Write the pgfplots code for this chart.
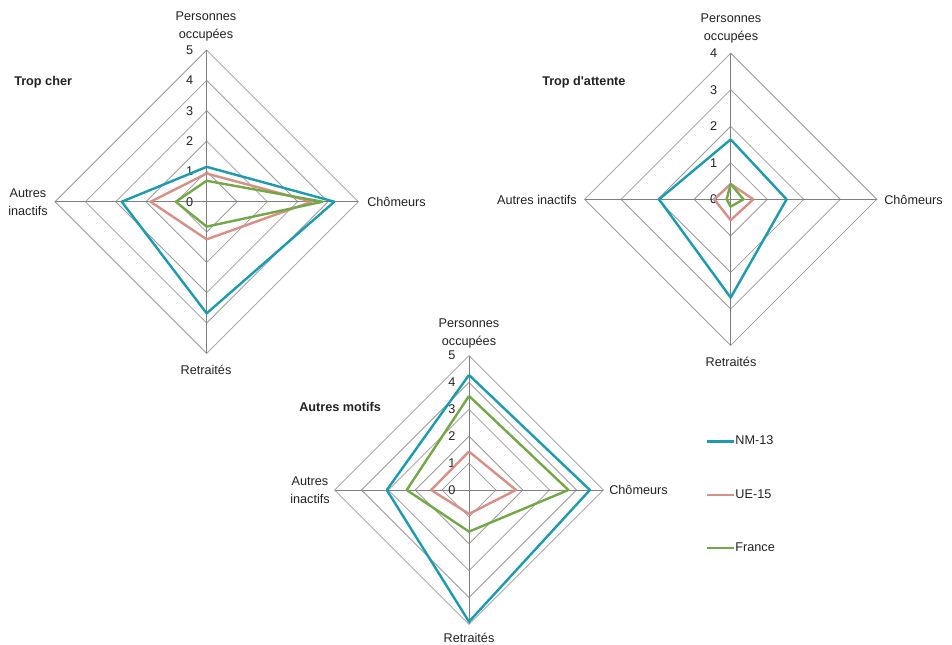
\documentclass[border=0pt]{standalone}
\usepackage{fontspec}
\setmainfont{Liberation Sans}[Ligatures=TeXOff]
\usepackage{pgfplots}
\pgfplotsset{compat=1.18}
\definecolor{cNM}{HTML}{1A9BB0}
\definecolor{cUE}{HTML}{D88F86}
\definecolor{cFR}{HTML}{73A847}
\definecolor{gridc}{HTML}{9C9C9C}
\definecolor{txt}{HTML}{222222}
\newcommand\lblfont{\fontsize{9.5pt}{13.5pt}\selectfont}
\pgfplotsset{
  radar/.style={anchor=origin, hide axis, clip=false,
    xmin=-#1, xmax=#1, ymin=-#1, ymax=#1, enlargelimits=false},
  ser/.style={line width=1.8pt, line join=round},
}
\newcommand\radargrid[1]{%
  \pgfplotsinvokeforeach{1,...,#1}{\draw[gridc, line width=0.6pt] (axis cs:0,##1) -- (axis cs:##1,0) -- (axis cs:0,-##1) -- (axis cs:-##1,0) -- cycle;}
  \draw[gray, line width=0.6pt] (axis cs:0,#1) -- (axis cs:0,-#1);
  \draw[gray, line width=0.6pt] (axis cs:-#1,0) -- (axis cs:#1,0);
  \pgfplotsinvokeforeach{0,...,#1}{\node[anchor=east, text=txt, font=\lblfont, xshift=-10pt, inner sep=0pt] at (axis cs:0,##1) {##1};}
}
\begin{document}
\begin{tikzpicture}
\begin{scope}[x=0.75pt, y=-0.75pt]
\path (0,0) rectangle (952,645);
\end{scope}

% Chart 1: Trop cher
\begin{axis}[radar=5, x=22.75pt, y=22.75pt, at={(155.0pt,-151.3pt)}]
\radargrid{5}
\addplot[ser, cNM] coordinates {(0,1.15) (4.21,0) (0,-3.68) (-2.80,0) (0,1.15)};
\addplot[ser, cUE] coordinates {(0,0.93) (3.46,0) (0,-1.24) (-1.85,0) (0,0.93)};
\addplot[ser, cFR] coordinates {(0,0.69) (3.82,0) (0,-0.82) (-1.02,0) (0,0.69)};
\end{axis}

% Chart 2: Trop d'attente
\begin{axis}[radar=4, x=27.4pt, y=27.4pt, at={(548.0pt,-149.5pt)}]
\radargrid{4}
\addplot[ser, cNM] coordinates {(0,1.64) (1.53,0) (0,-2.69) (-1.96,0) (0,1.64)};
\addplot[ser, cUE] coordinates {(0,0.42) (0.62,0) (0,-0.57) (-0.45,0) (0,0.42)};
\addplot[ser, cFR] coordinates {(0,0.42) (0.35,0) (0,-0.20) (-0.11,0) (0,0.42)};
\end{axis}

% Chart 3: Autres motifs
\begin{axis}[radar=5, x=20.15pt, y=20.15pt, at={(351.75pt,-367.5pt)},
  legend style={at={(1.38,0.712)}, anchor=north west, draw=none, fill=none,
    inner sep=0pt, font=\lblfont, text=txt, row sep=28pt,
    nodes={inner xsep=0.5pt}},
  legend cell align=left,
  legend image code/.code={\draw[#1, line width=1.8pt] (0pt,0pt) -- (20pt,0pt);}]
\radargrid{5}
\addplot[ser, cNM] coordinates {(0,4.28) (4.50,0) (0,-4.90) (-3.06,0) (0,4.28)};
\addlegendentry{NM-13}
\addplot[ser, cUE] coordinates {(0,1.43) (1.75,0) (0,-0.89) (-1.41,0) (0,1.43)};
\addlegendentry{UE-15}
\addplot[ser, cFR] coordinates {(0,3.50) (3.70,0) (0,-1.55) (-2.32,0) (0,3.50)};
\addlegendentry{France}
\end{axis}

\begin{scope}[x=0.75pt, y=-0.75pt, every node/.style={text=txt, font=\lblfont, inner sep=0pt}]
% titles
\node[anchor=west, font=\lblfont\bfseries] at (14,82) {Trop cher};
\node[anchor=west, font=\lblfont\bfseries] at (542,82) {Trop d'attente};
\node[anchor=west, font=\lblfont\bfseries] at (299,407) {Autres motifs};
% chart 1 labels
\node[align=center] at (206,26.5) {Personnes\\occupées};
\node[anchor=west] at (367,202) {Chômeurs};
\node at (206,370) {Retraités};
\node[align=center] at (28,202) {Autres\\inactifs};
% chart 2 labels
\node[align=center] at (731,28.5) {Personnes\\occupées};
\node[anchor=west] at (884,200) {Chômeurs};
\node at (731,362) {Retraités};
\node[anchor=east] at (577,200) {Autres inactifs};
% chart 3 labels
\node[align=center] at (469,333.5) {Personnes\\occupées};
\node[anchor=west] at (609,490) {Chômeurs};
\node at (469,638) {Retraités};
\node[align=center] at (310,490) {Autres\\inactifs};
\end{scope}
\end{tikzpicture}
\end{document}
